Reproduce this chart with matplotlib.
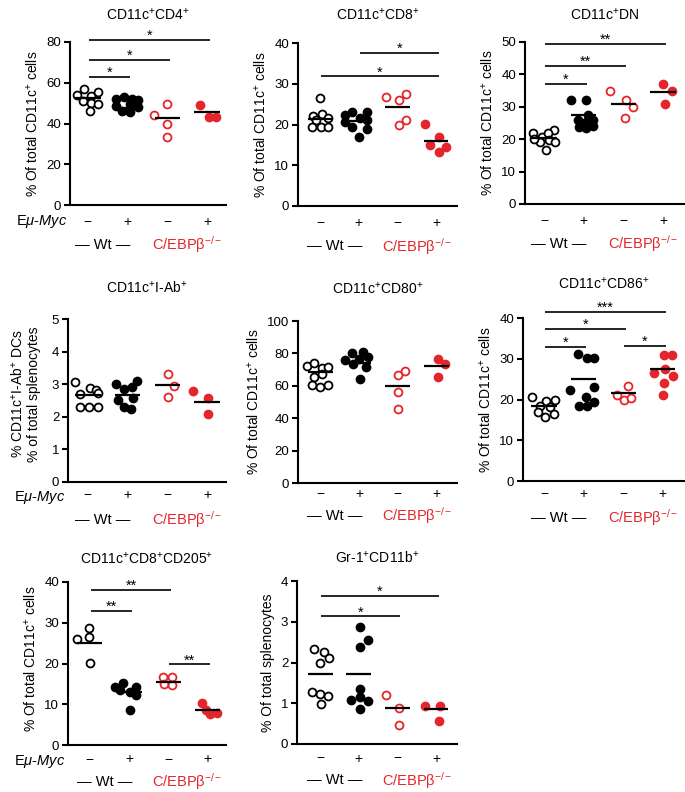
import matplotlib
matplotlib.use('Agg')
import matplotlib.pyplot as plt

plt.rcParams['font.family'] = ['Liberation Sans', 'DejaVu Sans']
plt.rcParams['mathtext.fontset'] = 'custom'
plt.rcParams['mathtext.rm'] = 'Liberation Sans'
plt.rcParams['mathtext.it'] = 'Liberation Sans:italic'
plt.rcParams['mathtext.bf'] = 'Liberation Sans:bold'

RED = '#e4252b'

# ---------------- data ----------------
group_signs = ['\u2212', '+', '\u2212', '+']
group_filled = [False, True, False, True]
group_colors = ['black', 'black', RED, RED]

titles = [r'CD11c$^{+}$CD4$^{+}$', r'CD11c$^{+}$CD8$^{+}$', r'CD11c$^{+}$DN',
          r'CD11c$^{+}$I-Ab$^{+}$', r'CD11c$^{+}$CD80$^{+}$', r'CD11c$^{+}$CD86$^{+}$',
          r'CD11c$^{+}$CD8$^{+}$CD205$^{+}$', r'Gr-1$^{+}$CD11b$^{+}$']
ylabels = [r'% Of total CD11c$^{+}$ cells'] * 3 + \
          ['% CD11c$^{+}$I-Ab$^{+}$ DCs\n% of total splenocytes',
           r'% Of total CD11c$^{+}$ cells', r'% Of total CD11c$^{+}$ cells',
           r'% Of total CD11c$^{+}$ cells', '% Of total splenocytes']
yticks = [[0, 20, 40, 60, 80], [0, 10, 20, 30, 40], [0, 10, 20, 30, 40, 50],
          [0, 1, 2, 3, 4, 5], [0, 20, 40, 60, 80, 100], [0, 10, 20, 30, 40],
          [0, 10, 20, 30, 40], [0, 1, 2, 3, 4]]

p1_off = [[-0.28, -0.1, 0.08, 0.25, -0.12, 0.08, 0.25, 0.06],
          [-0.29, -0.08, 0.1, 0.26, 0.07, -0.29, 0.26, -0.13, 0.07],
          [-0.34, 0, 0, 0], [-0.17, 0.04, 0.24]]
p1_val = [[54, 57, 53.5, 55.5, 51, 50, 49.5, 46],
          [52, 53, 52, 51.5, 49.5, 48.5, 48, 46, 45.5],
          [44.4, 49.8, 40, 33.5], [49, 43.3, 43.3]]
p1_mean = [52.7, 47.8, 42.8, 45.7]
p1_sig = [(0, 1, 63, '*'), (0, 2, 71.3, '*'), (0, 3, 81.1, '*')]

p2_off = [[0, -0.18, 0.05, 0.2, -0.1, -0.2, 0.02, 0.2],
          [-0.36, -0.17, 0.22, -0.36, 0.04, 0.22, -0.17, 0.22, 0],
          [-0.3, 0.23, 0.03, 0.04, 0.23], [-0.3, 0.07, -0.15, 0.07, 0.26]]
p2_val = [[26.6, 22, 22.5, 21.5, 21, 19.5, 19.3, 19.5],
          [22.3, 23.1, 23.1, 20.7, 21.5, 21, 19.4, 19, 17],
          [26.8, 27.4, 26, 19.8, 21.1], [20.1, 17, 14.9, 13.3, 14.5]]
p2_mean = [21.3, 20.8, 24.3, 16.0]
p2_sig = [(1, 3, 37.6, '*'), (0, 3, 31.8, '*')]

p3_off = [[-0.28, -0.05, 0.25, 0.1, -0.11, 0.12, 0.27, 0.06, -0.25],
          [-0.32, 0.06, 0.1, -0.15, 0.06, 0.23, -0.11, 0.06, 0.23],
          [-0.34, 0.06, 0.25, 0.04], [0, 0.21, 0.04]]
p3_val = [[21.8, 20.7, 22.8, 22, 19.2, 19.7, 19.2, 16.6, 20],
          [32, 32, 27.4, 25.9, 25.4, 25.9, 23.8, 23.5, 24],
          [34.9, 32, 29.8, 26.4], [37, 34.9, 30.8]]
p3_mean = [20.5, 27.4, 31, 34.6]
p3_sig = [(0, 1, 37, '*'), (0, 2, 42.7, '**'), (0, 3, 49.5, '**')]

p4_off = [[-0.32, 0.05, 0.2, -0.2, 0.25, -0.2, 0.04, 0.25],
          [-0.29, 0.25, -0.08, 0.1, -0.24, 0.13, -0.1, 0.08],
          [0.02, 0.18, 0.02], [-0.35, 0.02, 0.02]]
p4_val = [[3.08, 2.88, 2.82, 2.7, 2.72, 2.3, 2.3, 2.3],
          [3.0, 3.1, 2.84, 2.92, 2.52, 2.57, 2.29, 2.24],
          [3.31, 2.94, 2.62], [2.8, 2.59, 2.09]]
p4_mean = [2.67, 2.67, 2.98, 2.44]
p4_sig = []

p5_off = [[-0.34, -0.15, 0.04, 0.21, -0.15, 0.04, -0.2, 0, 0.2],
          [-0.36, -0.17, 0.09, 0, 0.24, -0.15, 0.19, 0.03],
          [0, 0.19, 0, 0], [0.04, 0.21, 0.04]]
p5_val = [[72.3, 74.3, 70.8, 71.9, 65.3, 67.1, 60.6, 59.1, 60.6],
          [76, 80.1, 81.1, 76.4, 77.6, 73.5, 71.3, 64],
          [66.7, 69.4, 55.9, 45.6], [76.4, 73.3, 65.3]]
p5_mean = [68.4, 74.3, 60, 72.3]
p5_sig = []

p6_off = [[-0.3, 0.06, 0.27, -0.11, 0.14, -0.15, 0.03, 0.25],
          [-0.13, 0.08, 0.25, -0.34, 0.25, 0.06, -0.11, 0.25, 0.08],
          [-0.15, 0.11, 0.02, 0.2], [0.03, 0.23, -0.23, 0.06, 0.25, 0.03, 0]]
p6_val = [[20.5, 19.7, 19.9, 18.5, 18.2, 17, 15.8, 16.4],
          [31.1, 30.3, 30.1, 22.3, 23, 20.5, 18.4, 19.5, 18.4],
          [21, 23.2, 19.8, 20.3], [31, 31, 26.4, 27.6, 25.8, 24.1, 21.1]]
p6_mean = [18.4, 25, 21.5, 27.4]
p6_sig = [(0, 1, 33, '*'), (0, 2, 37.3, '*'), (0, 3, 41.5, '***'), (2, 3, 33.2, '*')]

p7_off = [[-0.34, -0.02, -0.02, 0],
          [-0.37, -0.15, 0.19, 0.02, -0.24, 0.19, 0.02],
          [-0.13, 0.09, -0.11, 0.11], [-0.14, 0.07, 0.24, -0.02]]
p7_val = [[26, 28.8, 26.4, 20.2],
          [14.3, 15.1, 14.3, 13.1, 13.5, 12.2, 8.6],
          [16.6, 16.7, 14.9, 14.7], [10.2, 7.6, 7.9, 8.6]]
p7_mean = [25.1, 13.1, 15.5, 8.7]
p7_sig = [(0, 1, 33, '**'), (0, 2, 38, '**'), (2, 3, 19.8, '**')]

p8_off = [[-0.15, 0.09, 0.22, 0, -0.2, 0, 0.2, 0.03],
          [0.04, 0.24, 0.04, 0.02, -0.19, 0.04, 0.24, 0.04],
          [-0.3, 0.04, 0.04], [-0.28, 0.09, 0.07]]
p8_val = [[2.32, 2.26, 2.1, 1.98, 1.28, 1.22, 1.18, 0.98],
          [2.87, 2.56, 2.37, 1.36, 1.08, 1.16, 1.06, 0.87],
          [1.2, 0.89, 0.47], [0.94, 0.94, 0.56]]
p8_mean = [1.71, 1.71, 0.89, 0.85]
p8_sig = [(0, 2, 3.13, '*'), (0, 3, 3.63, '*')]

panels = [
    (p1_off, p1_val, p1_mean, p1_sig), (p2_off, p2_val, p2_mean, p2_sig),
    (p3_off, p3_val, p3_mean, p3_sig), (p4_off, p4_val, p4_mean, p4_sig),
    (p5_off, p5_val, p5_mean, p5_sig), (p6_off, p6_val, p6_mean, p6_sig),
    (p7_off, p7_val, p7_mean, p7_sig), (p8_off, p8_val, p8_mean, p8_sig),
]

# ---------------- layout (pixels: left, top, right, bottom) ----------------
W, H = 685, 792
layout = [(70, 42, 226, 205), (298, 43, 457, 206), (525, 42, 685, 204),
          (68, 319, 226, 482), (298, 321, 457, 483), (523, 318, 685, 481),
          (68, 582, 226, 745), (297, 581, 457, 744)]
xlims = [(-0.45, 3.48), (-0.57, 3.54), (-0.48, 3.55), (-0.5, 3.48),
         (-0.57, 3.52), (-0.53, 3.56), (-0.56, 3.48), (-0.6, 3.54)]
show_myc = [True, False, False, True, False, False, True, False]
sign_off = [17, 17, 17, 13, 11, 12.5, 14.5, 14.5]
myc_off = [17, 17, 17, 16, 16, 16, 17, 17]
wt_off = [40, 40.5, 40, 38, 33, 37, 36.5, 36.5]
title_pad = [16, 16.5, 16, 19, 20, 21, 13, 13]
ylabel_pad = [4, 4, 4, 8, 4, 4, 4, 4]
ylabel_y = [0.5, 0.5, 0.5, 0.54, 0.5, 0.5, 0.53, 0.5]

PX = 0.72  # points per pixel at dpi 100

fig = plt.figure(figsize=(W / 100, H / 100), dpi=100)

for k, (offs, vals, means, sigs) in enumerate(panels):
    l, t, r, b = layout[k]
    ax = fig.add_axes([l / W, 1 - b / H, (r - l) / W, (b - t) / H])
    ax.set_xlim(*xlims[k])
    ax.set_ylim(yticks[k][0], yticks[k][-1])
    for s in ['top', 'right']:
        ax.spines[s].set_visible(False)
    for s in ['left', 'bottom']:
        ax.spines[s].set_linewidth(1.5)
    ax.set_xticks([])
    ax.set_yticks(yticks[k])
    ax.tick_params(axis='y', direction='out', length=4.3, width=1.5,
                   labelsize=9.5, pad=2)
    ax.set_ylabel(ylabels[k], fontsize=10, labelpad=ylabel_pad[k],
                  linespacing=1.1, y=ylabel_y[k])
    ax.set_title(titles[k], fontsize=10, pad=title_pad[k])

    for g in range(4):
        xs = [g + o for o in offs[g]]
        ax.plot(xs, vals[g], 'o', ms=5.7, mew=1.3, mec=group_colors[g],
                mfc=group_colors[g] if group_filled[g] else 'white',
                clip_on=False, zorder=3)
        ax.plot([g - 0.32, g + 0.32], [means[g], means[g]], color='black',
                lw=1.6, solid_capstyle='butt', zorder=4)

    for (i, j, y, lab) in sigs:
        ax.plot([i + 0.03, j + 0.07], [y, y], color='black', lw=1.2,
                clip_on=False, solid_capstyle='butt')
        ax.text((i + j) / 2 + 0.05, y, lab, ha='center', va='baseline',
                fontsize=10.5)

    for g in range(4):
        ax.annotate(group_signs[g], xy=(g, 0), xycoords=('data', 'axes fraction'),
                    xytext=(0, -sign_off[k] * PX), textcoords='offset points',
                    ha='center', va='center', fontsize=10, annotation_clip=False)
    if show_myc[k]:
        ax.annotate(r'E$\mu$-$\mathit{Myc}$', xy=(0, 0), xycoords='axes fraction',
                    xytext=(-3 * PX, -myc_off[k] * PX), textcoords='offset points',
                    ha='right', va='center', fontsize=10.5, annotation_clip=False)
    ax.annotate('\u2014 Wt \u2014', xy=(0.38, 0), xycoords=('data', 'axes fraction'),
                xytext=(0, -wt_off[k] * PX), textcoords='offset points',
                ha='center', va='center', fontsize=10.5, annotation_clip=False)
    ax.annotate('C/EBP\u03b2$^{-/-}$', xy=(2.5, 0), xycoords=('data', 'axes fraction'),
                xytext=(0, -wt_off[k] * PX), textcoords='offset points',
                ha='center', va='center', fontsize=10.5, color=RED,
                annotation_clip=False)

fig.savefig('out.png', dpi=100)
